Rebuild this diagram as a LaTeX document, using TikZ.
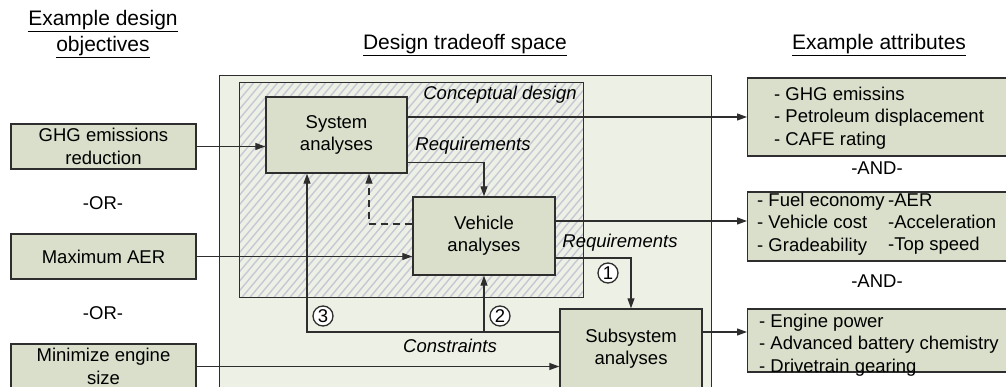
\documentclass[tikz,border=0pt]{standalone}
\usepackage{fontspec}
\setmainfont{Liberation Sans}
\usetikzlibrary{arrows.meta,calc}
\definecolor{boxfill}{HTML}{D9DFCA}
\definecolor{spacefill}{HTML}{EDF0E4}
\definecolor{hatchcol}{HTML}{C6C8D6}
\definecolor{ink}{HTML}{2E2E2E}

\begin{document}
\begin{tikzpicture}[x=1pt,y=-1pt,
  font=\fontsize{18.5}{22.3}\selectfont,
  blk/.style={draw=ink, line width=1.4pt, fill=boxfill, align=center, inner sep=0pt},
  arr/.style={draw=ink, line width=1.2pt, -{Triangle[length=10pt,width=7pt]}},
  lbl/.style={font=\fontsize{18.5}{22.3}\selectfont\itshape, inner sep=0pt},
  plain/.style={inner sep=0pt, align=left},
  num/.style={circle, draw=ink, line width=1.3pt, fill=white, inner sep=0pt, minimum size=20pt},
  head/.style={font=\fontsize{21}{26}\selectfont, align=center, inner sep=0pt},
]
\useasboundingbox (0,0) rectangle (1006,387);
\clip (0,0) rectangle (1006,387);

% headings
\node[head] (hobj) at (103,34) {\underline{Example design}\\\underline{objectives}};
\node[head] (hspace) at (465,45) {\underline{Design tradeoff space}};
\node[head] (hattr) at (879,45) {\underline{Example attributes}};

% design tradeoff space and conceptual-design region
\node[draw=ink, line width=1.4pt, fill=spacefill, inner sep=0pt, anchor=north west,
      minimum width=492pt, minimum height=340pt] (space) at (219,75) {};
\node[draw=ink, line width=1.4pt, fill=spacefill, inner sep=0pt, anchor=north west,
      minimum width=344pt, minimum height=215pt,
      path picture={
        \foreach \i in {0,8,...,560}
          \draw[hatchcol, line width=1.4pt]
            ($(path picture bounding box.south west)+(\i-190,0)$) -- ++(180,-215);
      }] (concept) at (239,82) {};
\node[draw=ink, line width=1.4pt, inner sep=0pt, anchor=north west,
      minimum width=344pt, minimum height=215pt] (conceptframe) at (239,82) {};
\node[lbl] (cdl) at (500,95) {Conceptual design};

% analysis blocks
\node[blk, minimum width=141pt, minimum height=76pt] (sys) at (336.5,135) {System\\analyses};
\node[blk, minimum width=142pt, minimum height=78pt] (veh) at (484,236) {Vehicle\\analyses};
\node[blk, minimum width=142pt, minimum height=79pt] (sub) at (631,348.5) {Subsystem\\analyses};

% design objectives
\node[blk, minimum width=185pt, minimum height=45pt] (ghg) at (103.5,146.5) {GHG emissions\\reduction};
\node[blk, minimum width=185pt, minimum height=45pt] (maer) at (103.5,256.5) {Maximum AER};
\node[blk, minimum width=185pt, minimum height=45pt] (mini) at (103.5,366.5) {Minimize engine\\size};
\node[plain] (or1) at (103,203) {-OR-};
\node[plain] (or2) at (103,313) {-OR-};

% attribute boxes
\node[blk, anchor=west, minimum width=280pt, minimum height=78pt] (r1) at (747,117) {};
\node[blk, anchor=west, minimum width=280pt, minimum height=69pt] (r2) at (747,226.5) {};
\node[blk, anchor=west, minimum width=280pt, minimum height=63pt] (r3) at (747,340.5) {};
\node[plain, anchor=west] (r1t) at (774,118) {- GHG emissins\\- Petroleum displacement\\- CAFE rating};
\node[plain, anchor=west] (r2a) at (757,224) {- Fuel economy\\- Vehicle cost\\- Gradeability};
\node[plain, anchor=west] (r2b) at (888,224) {-AER\\-Acceleration\\-Top speed};
\node[plain, anchor=west] (r3t) at (759,345) {- Engine power\\- Advanced battery chemistry\\- Drivetrain gearing};
\node[plain] (and1) at (877,168) {-AND-};
\node[plain] (and2) at (877,281) {-AND-};

% objectives into the analyses
\draw[arr] (ghg.east) -- (ghg.east -| sys.west);
\draw[arr] (maer.east) -- (maer.east -| veh.west);
\draw[arr] (mini.east) -- (mini.east -| sub.west);

% analyses to attributes
\draw[arr] (r1.west -| sys.east) -- (r1.west);
\draw[arr] ([yshift=15pt]veh.east) -- ([yshift=15pt]veh.east -| r2.west);
\draw[arr] ([yshift=16.5pt]sub.east) -- ([yshift=16.5pt]sub.east -| r3.west);

% requirements flow down
\draw[arr] ([yshift=11pt]sys.south east) -| (veh.north);
\node[lbl] (req1) at (473,146) {Requirements};
\draw[arr, dashed, dash pattern=on 7pt off 5pt] ([yshift=12pt]veh.west) -| ([xshift=32.5pt]sys.south);
\draw[arr] ([yshift=-22pt]veh.east) -| (sub.north);
\node[lbl] (req2) at (620,243) {Requirements};

% constraints flow back up
\coordinate (fb) at ([yshift=16.5pt]sub.west);
\draw[arr] (fb) -| ([xshift=-29.5pt]sys.south);
\draw[arr] (fb -| veh.south) -- (veh.south);
\node[lbl] (con) at (450,346) {Constraints};

% step numbers
\node[num] (n1) at (608,273) {1};
\node[num] (n2) at (500,316) {2};
\node[num] (n3) at (323,316) {3};
\end{tikzpicture}
\end{document}
